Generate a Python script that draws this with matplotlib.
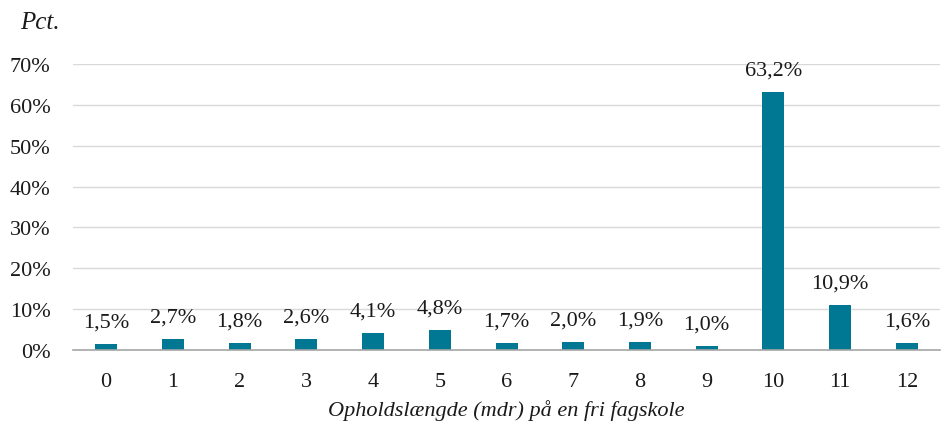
import numpy as np
import matplotlib.pyplot as plt

months = ['0', '1', '2', '3', '4', '5', '6', '7', '8', '9', '10', '11', '12']
shares = [1.5, 2.7, 1.8, 2.6, 4.1, 4.8, 1.7, 2.0, 1.9, 1.0, 63.2, 10.9, 1.6]
yticks = [0, 10, 20, 30, 40, 50, 60, 70]

plt.rcParams['font.family'] = ['Liberation Serif', 'DejaVu Serif']

fig = plt.figure(figsize=(9.45, 4.27), dpi=100)
ax = fig.add_axes([0.077, 0.178, 0.918, 0.670])

x = np.arange(len(months))
ax.bar(x, shares, width=0.33, color='#007894', zorder=3)

# value labels above bars
for xi, v in zip(x, shares):
    ax.annotate(f"{v:.1f}%".replace('.', ','), (xi, v), xytext=(0, 9),
                textcoords='offset points', ha='center', va='bottom',
                fontsize=16, color='#1a1a1a')

ax.set_xlim(-0.5, len(months) - 0.5)
ax.set_ylim(0, 70)
ax.set_yticks(yticks)
ax.set_yticklabels([f"{t}%" for t in yticks], fontsize=16, color='#1a1a1a')
ax.set_xticks(x)
ax.set_xticklabels(months, fontsize=16, color='#1a1a1a')
ax.tick_params(length=0)
ax.tick_params(axis='x', pad=16)
ax.tick_params(axis='y', pad=16)

ax.grid(axis='y', color='#d9d9d9', linewidth=1, zorder=0)
for s in ['top', 'right', 'left']:
    ax.spines[s].set_visible(False)
ax.spines['bottom'].set_color('#a6a6a6')
ax.spines['bottom'].set_linewidth(1.2)
ax.spines['bottom'].set_zorder(4)

ax.set_xlabel('Opholdslængde (mdr) på en fri fagskole', fontsize=16,
              style='italic', color='#1a1a1a', labelpad=6)
fig.text(0.021, 0.945, 'Pct.', fontsize=18, style='italic', color='#1a1a1a',
         ha='left', va='center')

fig.savefig('out.png', dpi=100)
plt.close()
